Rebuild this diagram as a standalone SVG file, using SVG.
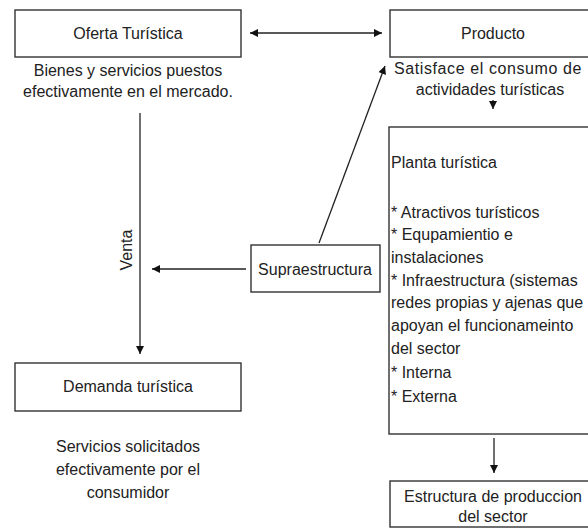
<svg xmlns="http://www.w3.org/2000/svg" width="588" height="529" viewBox="0 0 588 529">
<style>
  .box { fill: #ffffff; stroke: #333333; stroke-width: 1.4; }
  .t { font-family: "Liberation Sans", Arial, sans-serif; font-size: 16px; fill: #222222; }
  .c { text-anchor: middle; }
  .ln { stroke: #222222; stroke-width: 1.3; fill: none; }
</style>
<defs>
  <marker id="ah" viewBox="0 0 10 10" refX="10" refY="5" markerWidth="10" markerHeight="8" markerUnits="userSpaceOnUse" orient="auto-start-reverse">
    <path d="M0,0 L10,5 L0,10 Z" fill="#111111"/>
  </marker>
</defs>
<rect width="588" height="529" fill="#ffffff"/>

<g id="connectors">
  <line class="ln" x1="250" y1="33" x2="382" y2="33" marker-start="url(#ah)" marker-end="url(#ah)"/>
  <line class="ln" x1="319" y1="243" x2="385" y2="66" marker-end="url(#ah)"/>
  <line class="ln" x1="246" y1="269" x2="152" y2="269" marker-end="url(#ah)"/>
  <line class="ln" x1="140" y1="113" x2="140" y2="354" marker-end="url(#ah)"/>
  <line class="ln" x1="493" y1="100" x2="493" y2="109" marker-end="url(#ah)"/>
  <line class="ln" x1="494" y1="438" x2="494" y2="473" marker-end="url(#ah)"/>
  <text class="t c" transform="translate(132,250) rotate(-90)">Venta</text>
</g>

<g id="oferta">
  <rect class="box" x="15" y="10" width="226" height="47"/>
  <text class="t c" x="128" y="39">Oferta Turística</text>
  <text class="t c" x="128" y="76">Bienes y servicios puestos</text>
  <text class="t c" x="128" y="97">efectivamente en el mercado.</text>
</g>

<g id="producto">
  <rect class="box" x="390" y="10" width="210" height="47"/>
  <text class="t c" x="493" y="39">Producto</text>
  <text class="t c" x="488" y="74" letter-spacing="0.6">Satisface el consumo de</text>
  <text class="t c" x="490" y="95">actividades turísticas</text>
</g>

<g id="planta">
  <rect class="box" x="389" y="127" width="211" height="307"/>
  <text class="t" x="391" y="168">Planta turística</text>
  <text class="t" x="391" y="218">* Atractivos turísticos</text>
  <text class="t" x="391" y="240">* Equpamientio e</text>
  <text class="t" x="391" y="263">instalaciones</text>
  <text class="t" x="391" y="286">* Infraestructura (sistemas</text>
  <text class="t" x="391" y="308">redes propias y ajenas que</text>
  <text class="t" x="391" y="331">apoyan el funcionameinto</text>
  <text class="t" x="391" y="354">del sector</text>
  <text class="t" x="391" y="378">* Interna</text>
  <text class="t" x="391" y="402">* Externa</text>
</g>

<g id="supraestructura">
  <rect class="box" x="251" y="245" width="129" height="47"/>
  <text class="t c" x="315" y="275">Supraestructura</text>
</g>

<g id="demanda">
  <rect class="box" x="15" y="363" width="226" height="48"/>
  <text class="t c" x="128" y="392">Demanda turística</text>
  <text class="t c" x="128" y="452">Servicios solicitados</text>
  <text class="t c" x="128" y="475">efectivamente por el</text>
  <text class="t c" x="128" y="498">consumidor</text>
</g>

<g id="estructura">
  <rect class="box" x="390" y="481" width="210" height="46"/>
  <text class="t c" x="493" y="502">Estructura de produccion</text>
  <text class="t c" x="493" y="522">del sector</text>
</g>
</svg>
